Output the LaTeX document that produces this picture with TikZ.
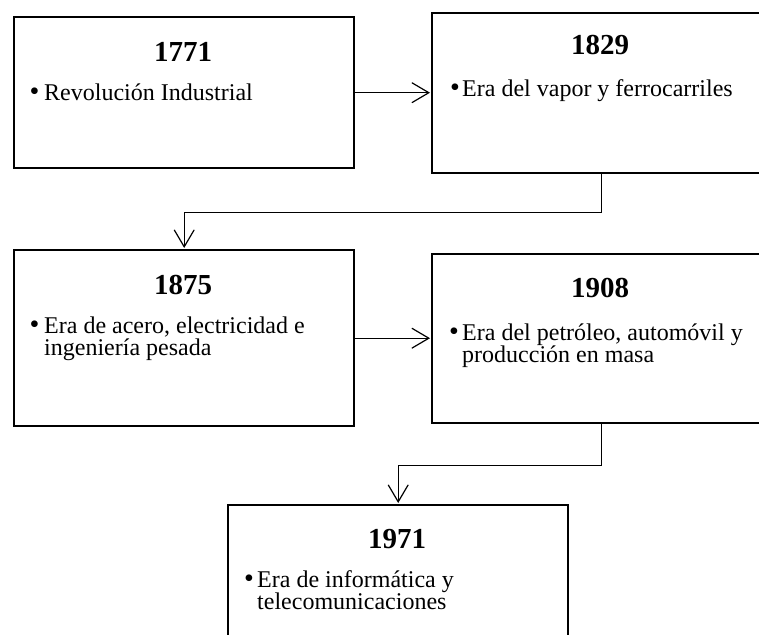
\documentclass[tikz,border=0pt]{standalone}
\usepackage{fontspec}
\setmainfont{Liberation Serif}
\usetikzlibrary{arrows.meta}
\begin{document}
\begin{tikzpicture}[x=1pt,y=-1pt,
  boxnode/.style={draw,line width=2.4pt,rectangle,anchor=north west,inner sep=0pt},
  titletext/.style={font=\fontsize{29}{29}\selectfont\bfseries,anchor=base,inner sep=0pt},
  bodytext/.style={font=\fontsize{24}{24}\selectfont,anchor=base west,inner sep=0pt},
  bullettext/.style={font=\fontsize{28}{28}\selectfont,anchor=base,inner sep=0pt},
  conn/.style={line width=1.2pt,-{Straight Barb[length=17pt,width=20pt]},shorten >=1pt}]
\useasboundingbox (0,0) rectangle (759,634);
\clip (0,0) rectangle (759,634);
% boxes
\node[boxnode,minimum width=340pt,minimum height=151pt] (b1) at (13,16) {};
\node[boxnode,minimum width=339pt,minimum height=160pt] (b2) at (431,12) {};
\node[boxnode,minimum width=340pt,minimum height=176pt] (b3) at (13,249) {};
\node[boxnode,minimum width=339pt,minimum height=169pt] (b4) at (431,253) {};
\node[boxnode,minimum width=340pt,minimum height=170pt] (b5) at (227,504) {};
% box 1
\node[titletext] (t1) at (183,62) {1771};
\node[bullettext] (p1) at (34.5,100) {•};
\node[bodytext] (l1a) at (44,100) {Revolución Industrial};
% box 2
\node[titletext] (t2) at (600,55) {1829};
\node[bullettext] (p2) at (455,96) {•};
\node[bodytext] (l2a) at (462,96) {Era del vapor y ferrocarriles};
% box 3
\node[titletext] (t3) at (183,294) {1875};
\node[bullettext] (p3) at (34.5,333) {•};
\node[bodytext] (l3a) at (44,333) {Era de acero, electricidad e};
\node[bodytext] (l3b) at (44,355) {ingeniería pesada};
% box 4
\node[titletext] (t4) at (600,297) {1908};
\node[bullettext] (p4) at (454,340) {•};
\node[bodytext] (l4a) at (462,340) {Era del petróleo, automóvil y};
\node[bodytext] (l4b) at (462,362) {producción en masa};
% box 5
\node[titletext] (t5) at (397,548) {1971};
\node[bullettext] (p5) at (249,587) {•};
\node[bodytext] (l5a) at (257,587) {Era de informática y};
\node[bodytext] (l5b) at (257,609) {telecomunicaciones};
% connectors
\draw[conn] (b1.east) -- (b1.east -| b2.west);
\draw[conn] (b3.east) -- (b3.east -| b4.west);
\draw[conn] (b2.south) -- ++(0,38) -| (b3.north);
\draw[conn] (b4.south) -- ++(0,41) -| (b5.north);
\end{tikzpicture}
\end{document}
